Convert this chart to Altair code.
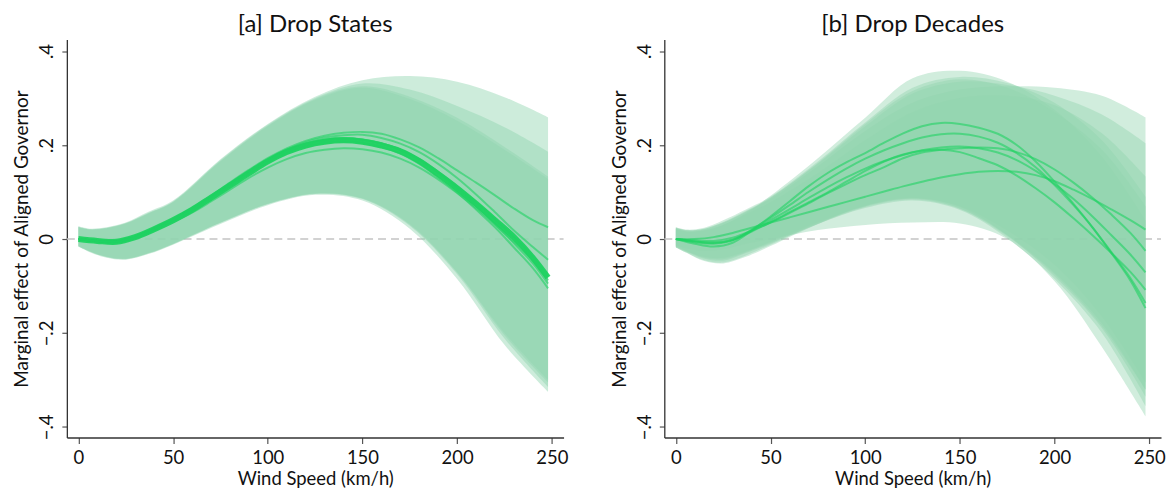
import altair as alt
import pandas as pd

# ---------------- data ----------------
X_LINE = [0, 10, 20, 30, 40, 50, 60, 70, 80, 90, 100, 110, 120, 130, 140, 150,
          160, 170, 180, 190, 200, 210, 220, 230, 240, 248]
X_BAND = [0, 6, 15, 25, 37, 50, 75, 100, 125, 150, 175, 200, 225, 248]

Y_TICKS = [-0.4, -0.2, 0, 0.2, 0.4]
X_TICKS = [0, 50, 100, 150, 200, 250]

# [a] Drop States: confidence bands
states_upper = [
    [0.027, 0.022, 0.025, 0.035, 0.058, 0.082, 0.170, 0.245, 0.303, 0.338, 0.347, 0.335, 0.302, 0.259],
    [0.026, 0.021, 0.024, 0.034, 0.056, 0.080, 0.168, 0.243, 0.300, 0.331, 0.318, 0.283, 0.238, 0.186],
    [0.025, 0.020, 0.023, 0.033, 0.055, 0.079, 0.166, 0.241, 0.298, 0.325, 0.303, 0.258, 0.196, 0.133],
    [0.025, 0.020, 0.023, 0.033, 0.054, 0.078, 0.165, 0.240, 0.296, 0.322, 0.298, 0.252, 0.190, 0.128],
]
states_lower = [
    [-0.016, -0.028, -0.040, -0.044, -0.032, -0.012, 0.032, 0.072, 0.094, 0.082, 0.022, -0.085, -0.225, -0.325],
    [-0.016, -0.027, -0.039, -0.043, -0.031, -0.011, 0.034, 0.074, 0.096, 0.085, 0.028, -0.075, -0.212, -0.315],
    [-0.015, -0.026, -0.038, -0.042, -0.030, -0.010, 0.035, 0.075, 0.097, 0.086, 0.030, -0.072, -0.205, -0.305],
    [-0.015, -0.026, -0.038, -0.042, -0.030, -0.010, 0.035, 0.075, 0.097, 0.087, 0.032, -0.070, -0.200, -0.300],
]
# [a] Drop States: point estimates
states_core = [0.000, -0.004, -0.006, 0.004, 0.021, 0.040, 0.062, 0.088, 0.114, 0.140, 0.165, 0.185, 0.199,
               0.207, 0.210, 0.207, 0.199, 0.187, 0.166, 0.138, 0.108, 0.075, 0.040, 0.004, -0.040, -0.082]
states_lines = [
    [0.000, -0.003, -0.004, 0.006, 0.023, 0.043, 0.066, 0.092, 0.120, 0.147, 0.172, 0.193, 0.209,
     0.220, 0.226, 0.228, 0.224, 0.212, 0.195, 0.172, 0.146, 0.120, 0.093, 0.065, 0.040, 0.025],
    [0.000, -0.004, -0.005, 0.005, 0.022, 0.042, 0.064, 0.090, 0.117, 0.144, 0.169, 0.190, 0.206,
     0.216, 0.221, 0.222, 0.215, 0.203, 0.185, 0.160, 0.130, 0.095, 0.057, 0.018, -0.017, -0.044],
    [0.000, -0.005, -0.007, 0.003, 0.020, 0.039, 0.061, 0.087, 0.113, 0.139, 0.163, 0.183, 0.197,
     0.205, 0.208, 0.205, 0.196, 0.182, 0.160, 0.131, 0.099, 0.063, 0.025, -0.018, -0.062, -0.105],
    [0.000, -0.005, -0.007, 0.002, 0.018, 0.036, 0.056, 0.080, 0.105, 0.130, 0.152, 0.170, 0.183,
     0.190, 0.193, 0.191, 0.184, 0.171, 0.152, 0.127, 0.098, 0.066, 0.031, -0.006, -0.045, -0.088],
    [0.000, -0.004, -0.005, 0.005, 0.022, 0.042, 0.065, 0.091, 0.118, 0.145, 0.170, 0.190, 0.204,
     0.212, 0.215, 0.212, 0.204, 0.190, 0.170, 0.143, 0.112, 0.078, 0.042, 0.004, -0.037, -0.078],
    [0.000, -0.004, -0.006, 0.003, 0.020, 0.040, 0.062, 0.088, 0.114, 0.140, 0.165, 0.186, 0.201,
     0.210, 0.214, 0.212, 0.204, 0.190, 0.168, 0.140, 0.107, 0.071, 0.032, -0.009, -0.052, -0.095],
]

# [b] Drop Decades: confidence bands
decades_upper = [
    [0.022, 0.016, 0.018, 0.030, 0.055, 0.092, 0.172, 0.258, 0.342, 0.358, 0.335, 0.275, 0.175, 0.040],
    [0.025, 0.020, 0.024, 0.040, 0.063, 0.090, 0.165, 0.248, 0.322, 0.345, 0.332, 0.290, 0.210, 0.090],
    [0.023, 0.018, 0.022, 0.035, 0.058, 0.085, 0.155, 0.230, 0.290, 0.318, 0.325, 0.322, 0.305, 0.259],
    [0.024, 0.019, 0.022, 0.036, 0.060, 0.088, 0.160, 0.240, 0.310, 0.335, 0.328, 0.305, 0.265, 0.204],
    [0.020, 0.015, 0.018, 0.030, 0.052, 0.078, 0.140, 0.210, 0.270, 0.300, 0.305, 0.285, 0.225, 0.133],
    [0.024, 0.018, 0.020, 0.034, 0.058, 0.088, 0.162, 0.245, 0.315, 0.340, 0.322, 0.270, 0.190, 0.070],
]
decades_lower = [
    [-0.018, -0.030, -0.047, -0.052, -0.038, -0.015, 0.032, 0.072, 0.088, 0.068, 0.008, -0.080, -0.190, -0.335],
    [-0.017, -0.028, -0.042, -0.046, -0.030, -0.010, 0.034, 0.070, 0.086, 0.065, 0.008, -0.072, -0.180, -0.320],
    [-0.015, -0.026, -0.038, -0.040, -0.026, -0.006, 0.036, 0.070, 0.086, 0.070, 0.018, -0.055, -0.165, -0.305],
    [-0.017, -0.027, -0.040, -0.043, -0.028, -0.008, 0.032, 0.066, 0.082, 0.062, 0.002, -0.085, -0.200, -0.355],
    [-0.012, -0.020, -0.025, -0.022, -0.010, 0.000, 0.019, 0.030, 0.035, 0.033, 0.000, -0.090, -0.230, -0.377],
    [-0.018, -0.030, -0.045, -0.050, -0.035, -0.012, 0.032, 0.068, 0.084, 0.064, 0.006, -0.075, -0.185, -0.320],
]
# [b] Drop Decades: point estimates
decades_lines = [
    [0.000, -0.010, -0.016, -0.008, 0.018, 0.048, 0.080, 0.112, 0.140, 0.163, 0.183, 0.205, 0.225,
     0.240, 0.247, 0.245, 0.237, 0.224, 0.200, 0.165, 0.122, 0.075, 0.025, -0.030, -0.088, -0.147],
    [0.000, -0.007, -0.010, -0.003, 0.020, 0.045, 0.072, 0.100, 0.126, 0.150, 0.171, 0.189, 0.204,
     0.216, 0.223, 0.224, 0.218, 0.205, 0.183, 0.153, 0.115, 0.072, 0.025, -0.028, -0.083, -0.136],
    [0.000, -0.003, -0.004, 0.003, 0.018, 0.035, 0.055, 0.076, 0.097, 0.117, 0.136, 0.153, 0.172,
     0.184, 0.190, 0.193, 0.195, 0.193, 0.185, 0.170, 0.148, 0.120, 0.088, 0.052, 0.013, -0.025],
    [0.000, -0.005, -0.008, -0.002, 0.016, 0.036, 0.057, 0.078, 0.099, 0.122, 0.145, 0.165, 0.180,
     0.188, 0.190, 0.185, 0.172, 0.157, 0.135, 0.108, 0.078, 0.044, 0.008, -0.030, -0.070, -0.108],
    [0.000, 0.000, 0.004, 0.013, 0.024, 0.035, 0.046, 0.057, 0.068, 0.079, 0.090, 0.101, 0.112,
     0.122, 0.131, 0.138, 0.143, 0.145, 0.143, 0.136, 0.123, 0.105, 0.085, 0.063, 0.040, 0.020],
    [0.000, -0.005, -0.008, -0.001, 0.018, 0.040, 0.063, 0.087, 0.110, 0.131, 0.150, 0.166, 0.179,
     0.189, 0.195, 0.197, 0.193, 0.184, 0.168, 0.145, 0.117, 0.085, 0.048, 0.008, -0.033, -0.071],
]

# ---------------- tables ----------------
def band_df(uppers, lowers):
    rows = []
    for b, (up, lo) in enumerate(zip(uppers, lowers)):
        for x, u, l in zip(X_BAND, up, lo):
            rows.append({"band": b, "x": x, "hi": u, "lo": l})
    return pd.DataFrame(rows)


def line_df(lines):
    rows = []
    for k, ys in enumerate(lines):
        for x, y in zip(X_LINE, ys):
            rows.append({"line": k, "x": x, "y": y})
    return pd.DataFrame(rows)


W, H = 498, 399
FONT = "Lato"
BAND_COLOR = "#91d5af"
LINE_COLOR = "#1fd262"
TXT = "#111111"

xscale = alt.Scale(domain=[-6.1, 256.2], nice=False, zero=False)
yscale = alt.Scale(domain=[-0.4225, 0.4246], nice=False, zero=False)

x_axis = alt.Axis(values=X_TICKS, title="Wind Speed (km/h)", grid=False, tickSize=6,
                  labelPadding=5, titlePadding=3, labelFlush=False,
                  labelFont=FONT, titleFont=FONT, labelFontSize=18.5, titleFontSize=18.5,
                  titleFontWeight="normal", labelColor=TXT, titleColor=TXT)
y_axis = alt.Axis(values=Y_TICKS, title="Marginal effect of Aligned Governor", grid=False,
                  tickSize=5, labelPadding=5, titlePadding=6, labelAngle=270,
                  labelAlign="center", labelBaseline="bottom", labelFlush=False,
                  labelFont=FONT, titleFont=FONT, labelFontSize=18.5, titleFontSize=19,
                  titleFontWeight="normal", labelColor=TXT, titleColor=TXT,
                  labelExpr="datum.value == 0 ? '0' : replace(format(datum.value, '.1f'), '0.', '.')")

zero_df = pd.DataFrame({"y": [0.0]})


def panel(title, uppers, lowers, lines, core, band_opacity):
    zero = alt.Chart(zero_df).mark_rule(color="#c4c4c4", strokeDash=[8, 5], strokeWidth=1.3).encode(
        y=alt.Y("y:Q", scale=yscale, axis=y_axis), x=alt.value(0), x2=alt.value(W))
    bands = alt.Chart(band_df(uppers, lowers)).mark_area(
        color=BAND_COLOR, opacity=band_opacity, interpolate="catmull-rom").encode(
        x=alt.X("x:Q", scale=xscale, axis=x_axis),
        y=alt.Y("lo:Q", scale=yscale, axis=y_axis),
        y2="hi:Q",
        detail="band:N")
    layers = [zero, bands]
    if core is not None:
        core_l = alt.Chart(line_df([core])).mark_line(
            color="#18d35c", strokeWidth=6, opacity=0.9, interpolate="catmull-rom").encode(
            x=alt.X("x:Q", scale=xscale), y=alt.Y("y:Q", scale=yscale), detail="line:N")
        layers.append(core_l)
    lns = alt.Chart(line_df(lines)).mark_line(
        color=LINE_COLOR, strokeWidth=2, opacity=0.6, interpolate="catmull-rom").encode(
        x=alt.X("x:Q", scale=xscale), y=alt.Y("y:Q", scale=yscale), detail="line:N")
    layers.append(lns)
    return alt.layer(*layers).properties(
        width=W, height=H,
        title=alt.TitleParams(title, fontSize=24, font=FONT, fontWeight="normal",
                              color=TXT, offset=3, anchor="middle"))


left = panel("[a] Drop States", states_upper, states_lower, states_lines, states_core, 0.45)
right = panel("[b] Drop Decades", decades_upper, decades_lower, decades_lines, None, 0.42)

chart = alt.hconcat(left, right, spacing=42).properties(
    padding={"left": 5, "top": 4, "right": 0, "bottom": 0}
).configure(
    background="white", font=FONT
).configure_view(stroke=None).configure_axis(
    domainColor="#333333", domainWidth=1.3, tickColor="#555555", tickWidth=1.2
)

chart.save("out.html", embed_options={"renderer": "svg", "actions": False})
